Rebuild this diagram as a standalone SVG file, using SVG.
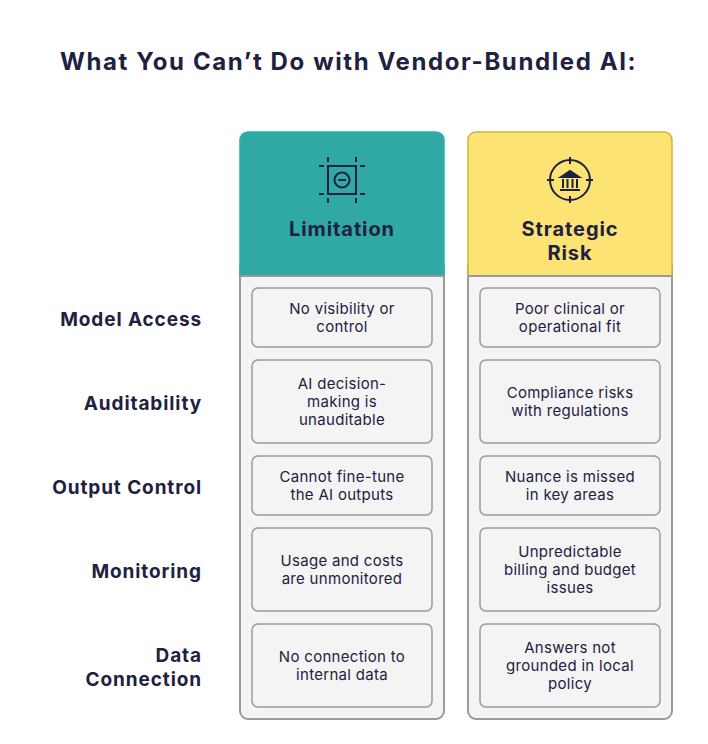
<svg xmlns="http://www.w3.org/2000/svg" width="708" height="744" viewBox="0 0 708 744">
<style>
.t{font-family:Inter,"Open Sans",sans-serif;fill:#1f2140}
.h{font-size:24px;font-weight:700;letter-spacing:1.6px}
.row{font-size:19px;font-weight:700;text-anchor:end;letter-spacing:0.9px}
.hd{font-size:20px;font-weight:700;text-anchor:middle;letter-spacing:0.9px}
.c{font-size:15px;text-anchor:middle;letter-spacing:0.3px}
.body{fill:#f4f4f4;stroke:#9a9a9a;stroke-width:2}
.cell{fill:#f4f4f4;stroke:#9a9a9a;stroke-width:1.5}
.ic{fill:none;stroke:#1f2140;stroke-width:2}
</style>
<rect width="708" height="744" fill="#fff"/>
<text class="t h" x="60" y="70">What You Can’t Do with Vendor-Bundled AI:</text>
<g id="rowlabels">
<text class="t row" x="202" y="326">Model Access</text>
<text class="t row" x="202" y="410">Auditability</text>
<text class="t row" x="202" y="494">Output Control</text>
<text class="t row" x="202" y="578">Monitoring</text>
<text class="t row" x="202" y="662">Data</text>
<text class="t row" x="202" y="686">Connection</text>
</g>
<g id="col-limitation">
<rect class="body" x="240" y="260" width="204" height="459" rx="8"/>
<path d="M240,276 V140 a8,8 0 0 1 8,-8 H436 a8,8 0 0 1 8,8 V276 Z" fill="#30a8a4" stroke="#2bb3ae" stroke-width="1.5"/>
<line x1="240" y1="276" x2="444" y2="276" stroke="#9a9a9a" stroke-width="2"/>
<g class="ic">
<rect x="328" y="166" width="28" height="28"/>
<circle cx="342" cy="180" r="7.5"/>
<line x1="338" y1="180" x2="346" y2="180"/>
<path d="M328,157v5M356,157v5M328,198v5M356,198v5M319,166h5M360,166h5M319,194h5M360,194h5"/>
</g>
<text class="t hd" x="342" y="236">Limitation</text>
</g>
<g id="col-risk">
<rect class="body" x="468" y="260" width="204" height="459" rx="8"/>
<path d="M468,276 V140 a8,8 0 0 1 8,-8 H664 a8,8 0 0 1 8,8 V276 Z" fill="#fde374" stroke="#d4b23a" stroke-width="1.5"/>
<line x1="468" y1="276" x2="672" y2="276" stroke="#9a9a9a" stroke-width="2"/>
<g class="ic">
<circle cx="570" cy="180" r="20"/>
<path d="M570,157v7M570,196v7M547,180h7M586,180h7"/>
<path d="M561,177 L570,171 L579,177 Z" fill="#1f2140"/>
<path d="M563,179v9M567.5,179v9M572.5,179v9M577,179v9"/>
<line x1="560" y1="190" x2="580" y2="190"/>
</g>
<text class="t hd" x="570" y="236">Strategic</text>
<text class="t hd" x="570" y="260">Risk</text>
</g>
<g id="cells-left">
<rect class="cell" x="252" y="288" width="180" height="59" rx="6"/>
<text class="t c" x="342" y="314">No visibility or</text><text class="t c" x="342" y="332">control</text>
<rect class="cell" x="252" y="360" width="180" height="83" rx="6"/>
<text class="t c" x="342" y="389">AI decision-</text><text class="t c" x="342" y="407">making is</text><text class="t c" x="342" y="425">unauditable</text>
<rect class="cell" x="252" y="456" width="180" height="59" rx="6"/>
<text class="t c" x="342" y="482">Cannot fine-tune</text><text class="t c" x="342" y="500">the AI outputs</text>
<rect class="cell" x="252" y="528" width="180" height="83" rx="6"/>
<text class="t c" x="342" y="566">Usage and costs</text><text class="t c" x="342" y="584">are unmonitored</text>
<rect class="cell" x="252" y="624" width="180" height="83" rx="6"/>
<text class="t c" x="342" y="662">No connection to</text><text class="t c" x="342" y="680">internal data</text>
</g>
<g id="cells-right">
<rect class="cell" x="480" y="288" width="180" height="59" rx="6"/>
<text class="t c" x="570" y="314">Poor clinical or</text><text class="t c" x="570" y="332">operational fit</text>
<rect class="cell" x="480" y="360" width="180" height="83" rx="6"/>
<text class="t c" x="570" y="398">Compliance risks</text><text class="t c" x="570" y="416">with regulations</text>
<rect class="cell" x="480" y="456" width="180" height="59" rx="6"/>
<text class="t c" x="570" y="482">Nuance is missed</text><text class="t c" x="570" y="500">in key areas</text>
<rect class="cell" x="480" y="528" width="180" height="83" rx="6"/>
<text class="t c" x="570" y="557">Unpredictable</text><text class="t c" x="570" y="575">billing and budget</text><text class="t c" x="570" y="593">issues</text>
<rect class="cell" x="480" y="624" width="180" height="83" rx="6"/>
<text class="t c" x="570" y="653">Answers not</text><text class="t c" x="570" y="671">grounded in local</text><text class="t c" x="570" y="689">policy</text>
</g>
<g id="connectors"></g>
</svg>
